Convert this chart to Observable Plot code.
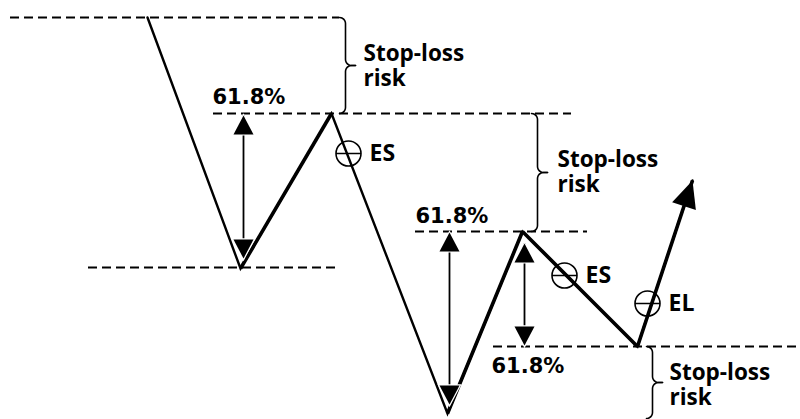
<!DOCTYPE html>
<html>
<head>
<meta charset="utf-8">
<script src="https://cdn.jsdelivr.net/npm/d3@7"></script>
<script src="https://cdn.jsdelivr.net/npm/@observablehq/plot@0.6"></script>
<style>
  html, body { margin: 0; padding: 0; background: #fff; }
  #chart svg { display: block; }
</style>
</head>
<body>
<div id="chart"></div>
<script>
// ---- data (x = time, y = price units) ----
const pivotX = [147, 240, 331, 447, 522, 637, 692];
const pivotPrice = [402, 151, 306, 6, 188, 73, 239];

const levelPrice = [402, 306, 152, 188, 73];
const levelFrom = [10, 213, 88, 415, 493];
const levelTo = [339, 571, 337, 587, 800];

const braceX = [345, 537, 652];
const braceTop = [402, 306, 73];
const braceBottom = [306, 188, 1];

const arrowX = [243, 449, 524];
const arrowTop = [304, 187, 176];
const arrowBottom = [161, 15, 74];

const markerX = [348, 564, 647];
const markerPrice = [266, 144, 116];
const markerLabel = ["ES", "ES", "EL"];

const pctX = [212, 415, 491];
const pctPrice = [316, 197, 47];
const pctLabel = ["61.8%", "61.8%", "61.8%"];

const riskX = [363, 557, 669];
const riskPrice = [334, 228, 15];
const riskLabel = ["Stop-loss\nrisk", "Stop-loss\nrisk", "Stop-loss\nrisk"];

// ---- derived tables ----
const pivots = pivotX.map((x, i) => ({x, y: pivotPrice[i], i}));
const legs = pivots.slice(1).map((p, i) => ({x1: pivots[i].x, y1: pivots[i].y, x2: p.x, y2: p.y, i}));
const levels = levelPrice.map((y, i) => ({y, x1: levelFrom[i], x2: levelTo[i]}));
const arrows = arrowX.map((x, i) => ({x, top: arrowTop[i], bottom: arrowBottom[i]}));
const markers = markerX.map((x, i) => ({x, y: markerPrice[i], label: markerLabel[i]}));
const pcts = pctX.map((x, i) => ({x, y: pctPrice[i], label: pctLabel[i]}));
const risks = riskX.map((x, i) => ({x, y: riskPrice[i], label: riskLabel[i]}));

// brace geometry ("}" shape) built from each brace's span
function arc(cx, cy, r, a0, a1, n = 6) {
  const pts = [];
  for (let k = 0; k <= n; k++) {
    const a = (a0 + (a1 - a0) * k / n) * Math.PI / 180;
    pts.push([cx + r * Math.cos(a), cy + r * Math.sin(a)]);
  }
  return pts;
}
const bracePts = [];
braceX.forEach((x0, b) => {
  const pt = braceTop[b], pb = braceBottom[b], pm = (pt + pb) / 2;
  const r = 6, rm = 6, tail = 4;
  const upper = [
    ...arc(x0 - r, pt - r, r, 90, 0),
    ...arc(x0 + rm, pm + rm, rm, 180, 270),
    [x0 + rm + tail, pm]
  ];
  const lower = [
    [x0 + rm + tail, pm],
    ...arc(x0 + rm, pm - rm, rm, 90, 180),
    ...arc(x0 - r, pb + r, r, 0, -90)
  ];
  upper.forEach(([x, y]) => bracePts.push({x, y, z: b + "u"}));
  lower.forEach(([x, y]) => bracePts.push({x, y, z: b + "l"}));
});

// custom symbols
const head = (w, h) => ({
  draw(ctx) { ctx.moveTo(0, 0); ctx.lineTo(w / 2, h); ctx.lineTo(-w / 2, h); ctx.closePath(); }
});
const circleMinus = {
  draw(ctx, size) {
    const r = Math.sqrt(size / Math.PI);
    ctx.moveTo(r, 0); ctx.arc(0, 0, r, 0, 2 * Math.PI);
    ctx.moveTo(-r, 0); ctx.lineTo(r, 0);
  }
};

const lastLeg = legs[legs.length - 1];
const bigAngle = Math.atan2(lastLeg.x2 - lastLeg.x1, lastLeg.y2 - lastLeg.y1) * 180 / Math.PI;

const words = "'Open Sans', 'DejaVu Sans', sans-serif";
const nums = "'DejaVu Sans', sans-serif";

const chart = Plot.plot({
  width: 800,
  height: 419,
  margin: 0,
  x: {domain: [0, 800], axis: null},
  y: {domain: [0, 419], axis: null},
  style: {background: "white"},
  marks: [
    Plot.ruleY(levels, {y: "y", x1: "x1", x2: "x2", stroke: "black", strokeWidth: 2, strokeDasharray: "9,5"}),
    Plot.line(bracePts, {x: "x", y: "y", z: "z", stroke: "black", strokeWidth: 1.6, curve: "linear"}),
    Plot.line(pivots, {x: "x", y: "y", stroke: "black", strokeWidth: 2.4, strokeLinejoin: "miter", strokeMiterlimit: 12}),
    Plot.link(legs.filter(d => d.i !== 0 && d.i !== 2), {x1: "x1", y1: "y1", x2: "x2", y2: "y2", stroke: "black", strokeWidth: 3.6}),
    Plot.ruleX(arrows, {x: "x", y1: "top", y2: "bottom", stroke: "black", strokeWidth: 1.8}),
    Plot.dot(arrows, {x: "x", y: "top", symbol: head(20, 19), r: 5, fill: "black", stroke: "white", strokeWidth: 2, paintOrder: "stroke"}),
    Plot.dot(arrows, {x: "x", y: "bottom", symbol: head(20, 19), rotate: 180, r: 5, fill: "black", stroke: "white", strokeWidth: 2.5, paintOrder: "stroke"}),
    Plot.dot([lastLeg], {x: "x2", y: "y2", symbol: head(25, 27), rotate: bigAngle, r: 5, fill: "black"}),
    Plot.dot(markers, {x: "x", y: "y", symbol: circleMinus, r: 12.5, fill: "none", stroke: "black", strokeWidth: 1.6}),
    Plot.text(markers, {x: "x", y: "y", text: "label", dx: 21, textAnchor: "start", lineAnchor: "middle", fontFamily: words, fontWeight: "bold", fontSize: 23, fill: "black"}),
    Plot.text(pcts, {x: "x", y: "y", text: "label", textAnchor: "start", lineAnchor: "bottom", fontFamily: nums, fontWeight: "bold", fontSize: 21, fill: "black"}),
    Plot.text(risks, {x: "x", y: "y", text: "label", textAnchor: "start", lineAnchor: "bottom", lineHeight: 1.09, fontFamily: words, fontWeight: "bold", fontSize: 22.5, fill: "black"})
  ]
});
document.getElementById("chart").appendChild(chart);
</script>
</body>
</html>
